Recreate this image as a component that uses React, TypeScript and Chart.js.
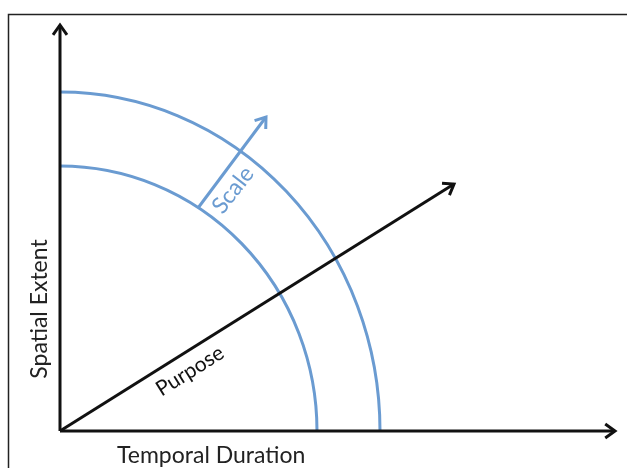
import React, { useEffect, useRef } from "react";
import { Chart, registerables } from "chart.js";

Chart.register(...registerables);

// Diagram values in abstract data units (origin = where the two axes meet)
const xAxisLine = [{ x: 0, y: 0 }, { x: 55.5, y: 0 }];
const yAxisLine = [{ x: 0, y: 0 }, { x: 0, y: 40.6 }];
const purposeLine = [{ x: 0, y: 0 }, { x: 39.4, y: 24.7 }];
const scaleArrow = [{ x: 13.8, y: 22.3 }, { x: 20.6, y: 31.4 }];
const arcRadiiX = [25.7, 32.0];
const arcRadiiY = [26.5, 33.9];
const xTitle = "Temporal Duration";
const yTitle = "Spatial Extent";
const purposeLabel = "Purpose";
const scaleLabel = "Scale";

const BLUE = "#6a9bd1";
const INK = "#111111";
const FONT = "Lato, 'Open Sans', sans-serif";

const diagramPlugin = {
  id: "diagram",
  beforeDatasetsDraw(chart: any) {
    const { ctx, scales } = chart;
    const xs = scales.x, ys = scales.y;
    const cx = xs.getPixelForValue(0), cy = ys.getPixelForValue(0);
    ctx.save();
    // frame
    ctx.strokeStyle = "#222";
    ctx.lineWidth = 1.5;
    ctx.beginPath();
    ctx.moveTo(8.5, 700);
    ctx.lineTo(8.5, 14.5);
    ctx.lineTo(900, 14.5);
    ctx.stroke();
    // arcs
    ctx.strokeStyle = BLUE;
    ctx.lineWidth = 3;
    for (let i = 0; i < arcRadiiX.length; i++) {
      const rx = xs.getPixelForValue(arcRadiiX[i]) - cx;
      const ry = cy - ys.getPixelForValue(arcRadiiY[i]);
      ctx.beginPath();
      ctx.ellipse(cx, cy, rx, ry, 0, -Math.PI / 2, 0, false);
      ctx.stroke();
    }
    ctx.restore();
  },
  afterDatasetsDraw(chart: any) {
    const { ctx, scales } = chart;
    const xs = scales.x, ys = scales.y;
    ctx.save();
    // arrowheads
    chart.data.datasets.forEach((ds: any) => {
      const pts = ds.data;
      const a = pts[pts.length - 2], b = pts[pts.length - 1];
      const ax = xs.getPixelForValue(a.x), ay = ys.getPixelForValue(a.y);
      const bx = xs.getPixelForValue(b.x), by = ys.getPixelForValue(b.y);
      const ang = Math.atan2(by - ay, bx - ax);
      const len = 12, spread = 0.62;
      ctx.strokeStyle = ds.borderColor;
      ctx.lineWidth = 3;
      ctx.lineJoin = "miter";
      ctx.lineCap = "butt";
      ctx.beginPath();
      ctx.moveTo(bx - len * Math.cos(ang - spread), by - len * Math.sin(ang - spread));
      ctx.lineTo(bx, by);
      ctx.lineTo(bx - len * Math.cos(ang + spread), by - len * Math.sin(ang + spread));
      ctx.stroke();
    });
    const ox = xs.getPixelForValue(0), oy = ys.getPixelForValue(0);
    // axis titles
    ctx.fillStyle = "#222";
    ctx.font = `23px ${FONT}`;
    ctx.textBaseline = "middle";
    ctx.textAlign = "left";
    ctx.fillText(xTitle, ox + 57, oy + 25);
    ctx.save();
    ctx.translate(ox - 20, oy - 122);
    ctx.rotate(-Math.PI / 2);
    ctx.textAlign = "center";
    ctx.fillText(yTitle, 0, 0);
    ctx.restore();
    // Purpose label
    const pa = purposeLine[0], pb = purposeLine[1];
    const pAng = Math.atan2(ys.getPixelForValue(pb.y) - ys.getPixelForValue(pa.y), xs.getPixelForValue(pb.x) - xs.getPixelForValue(pa.x));
    ctx.save();
    ctx.translate(ox + 130, oy - 60);
    ctx.rotate(pAng);
    ctx.textAlign = "center";
    ctx.font = `21px ${FONT}`;
    ctx.fillStyle = "#111";
    ctx.fillText(purposeLabel, 0, 0);
    ctx.restore();
    // Scale label
    ctx.save();
    ctx.translate(ox + 173, oy - 241);
    ctx.rotate(-52 * Math.PI / 180);
    ctx.textAlign = "center";
    ctx.font = `23px ${FONT}`;
    ctx.fillStyle = BLUE;
    ctx.fillText(scaleLabel, 0, 0);
    ctx.restore();
    ctx.restore();
  },
};

export default function App() {
  const ref = useRef<HTMLCanvasElement>(null);
  useEffect(() => {
    if (!ref.current) return;
    const line = (data: any, color: string) => ({
      data,
      showLine: true,
      borderColor: color,
      borderWidth: 3,
      pointRadius: 0,
      fill: false,
    });
    const chart = new Chart(ref.current, {
      type: "scatter",
      data: {
        datasets: [
          line(xAxisLine, INK),
          line(yAxisLine, INK),
          line(purposeLine, INK),
          line(scaleArrow, BLUE),
        ],
      },
      options: {
        animation: false,
        responsive: false,
        maintainAspectRatio: false,
        layout: { padding: 0 },
        plugins: { legend: { display: false }, tooltip: { enabled: false } },
        scales: {
          x: { type: "linear", min: -6.0, max: 56.7, display: false },
          y: { type: "linear", min: -3.7, max: 43.1, display: false },
        },
      },
      plugins: [diagramPlugin],
    });
    return () => chart.destroy();
  }, []);
  return (
    <div style={{ position: "absolute", left: 0, top: 0, width: 627, height: 468, background: "#fff" }}>
      <canvas ref={ref} width={627} height={468} style={{ display: "block" }} />
    </div>
  );
}
